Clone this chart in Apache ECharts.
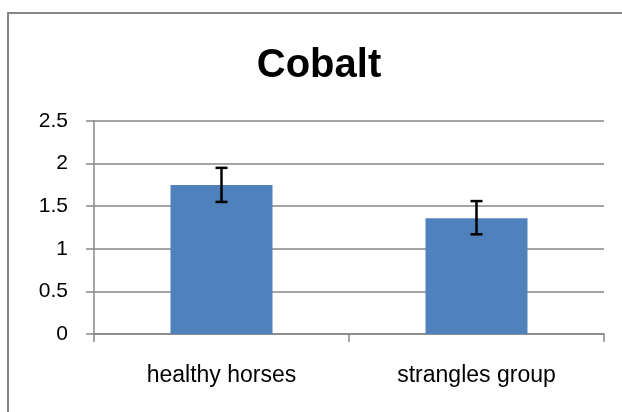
<!DOCTYPE html>
<html>
<head>
<meta charset="utf-8">
<script src="https://cdn.jsdelivr.net/npm/echarts@6/dist/echarts.min.js"></script>
<style>
  html, body { margin: 0; padding: 0; background: #fff; }
  #echarts { width: 622px; height: 412px; }
</style>
</head>
<body>
<div id="echarts"></div>
<script>
// 数据
const categories = ['healthy horses', 'strangles group']
const means = [1.75, 1.36]
const errLow = [1.55, 1.17]
const errHigh = [1.95, 1.56]

const axisGray = '#878787'
const fontFamily = '"Liberation Sans", Arial, sans-serif'

let myChart = echarts.init(document.getElementById('echarts'))

let options = {
  animation: false,
  // 外框
  graphic: [{
    type: 'rect',
    shape: { x: 8, y: 13, width: 700, height: 500 },
    style: { fill: 'none', stroke: axisGray, lineWidth: 2 },
    silent: true
  }],
  title: {
    text: 'Cobalt',
    left: 314,
    top: 41,
    textAlign: 'center',
    textStyle: {
      fontFamily: fontFamily,
      fontWeight: 'bold',
      fontSize: 40,
      color: '#000'
    }
  },
  grid: { left: 94, right: 18, top: 121, bottom: 78 },
  xAxis: {
    type: 'category',
    data: categories,
    axisLine: { lineStyle: { color: axisGray, width: 1.5 } },
    axisTick: { show: true, length: 8, lineStyle: { color: axisGray, width: 1.5 } },
    axisLabel: { margin: 30, fontSize: 23, color: '#000', fontFamily: fontFamily }
  },
  yAxis: {
    type: 'value',
    min: 0,
    max: 2.5,
    interval: 0.5,
    axisLine: { show: true, lineStyle: { color: axisGray, width: 1.5 } },
    axisTick: { show: true, length: 8, lineStyle: { color: axisGray, width: 1.5 } },
    axisLabel: { margin: 26, fontSize: 21, color: '#000', fontFamily: fontFamily },
    splitLine: { lineStyle: { color: axisGray, width: 1.5 } }
  },
  series: [
    {
      type: 'bar',
      data: means,
      barWidth: '40%',
      itemStyle: { color: '#4F81BD' }
    },
    {
      // 误差线
      type: 'custom',
      data: categories.map((c, i) => [i, errLow[i], errHigh[i]]),
      encode: { x: 0, y: [1, 2] },
      z: 10,
      renderItem: (params, api) => {
        let lo = api.coord([api.value(0), api.value(1)])
        let hi = api.coord([api.value(0), api.value(2)])
        let w = 6
        let style = { stroke: '#000', lineWidth: 2.5 }
        return {
          type: 'group',
          children: [
            { type: 'line', shape: { x1: hi[0], y1: hi[1], x2: lo[0], y2: lo[1] }, style: style },
            { type: 'line', shape: { x1: hi[0] - w, y1: hi[1], x2: hi[0] + w, y2: hi[1] }, style: style },
            { type: 'line', shape: { x1: lo[0] - w, y1: lo[1], x2: lo[0] + w, y2: lo[1] }, style: style }
          ]
        }
      }
    }
  ]
}

myChart.setOption(options)
</script>
</body>
</html>
